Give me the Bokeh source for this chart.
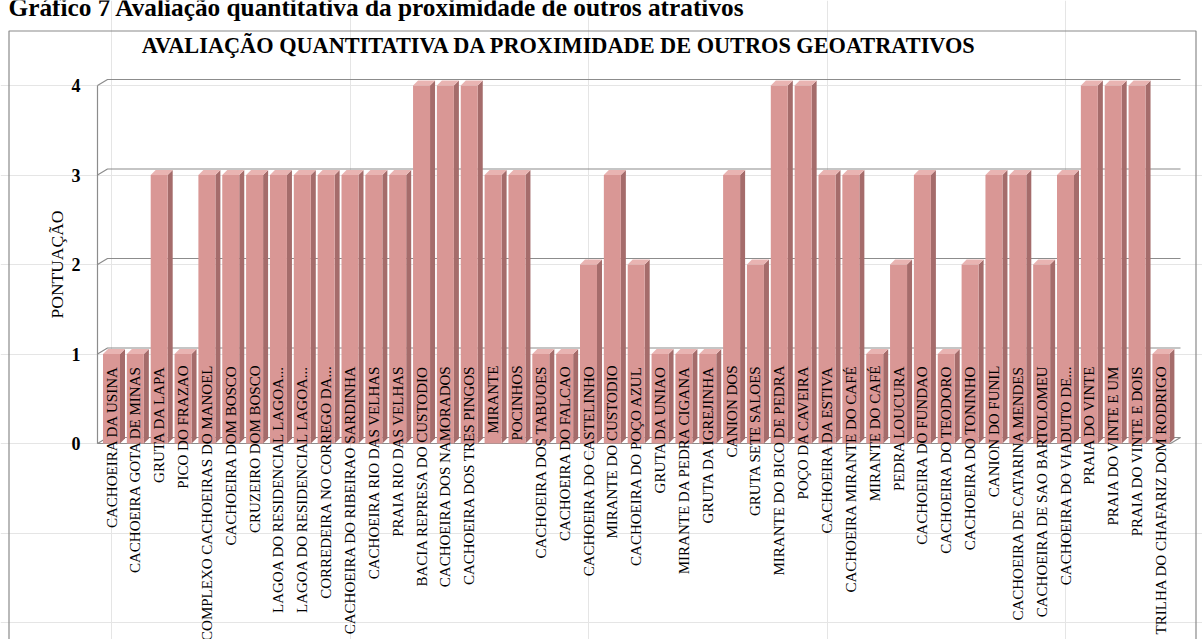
import numpy as np
from bokeh.plotting import figure
from bokeh.models import ColumnDataSource, Range1d
from bokeh.core.properties import value
from bokeh.embed import file_html
from bokeh.resources import INLINE

# ---------------- data ----------------
categories = [
    "CACHOEIRA DA USINA",
    "CACHOEIRA GOTA DE MINAS",
    "GRUTA DA LAPA",
    "PICO DO FRAZAO",
    "COMPLEXO CACHOEIRAS DO MANOEL",
    "CACHOEIRA DOM BOSCO",
    "CRUZEIRO DOM BOSCO",
    "LAGOA DO RESIDENCIAL LAGOA...",
    "LAGOA DO RESIDENCIAL LAGOA...",
    "CORREDEIRA NO CORREGO DA...",
    "CACHOEIRA DO RIBEIRAO SARDINHA",
    "CACHOEIRA RIO DAS VELHAS",
    "PRAIA RIO DAS VELHAS",
    "BACIA REPRESA DO CUSTODIO",
    "CACHOEIRA DOS NAMORADOS",
    "CACHOEIRA DOS TRES PINGOS",
    "MIRANTE",
    "POCINHOS",
    "CACHOEIRA DOS TABUOES",
    "CACHOEIRA DO FALCAO",
    "CACHOEIRA DO CASTELINHO",
    "MIRANTE DO CUSTODIO",
    "CACHOEIRA DO POÇO AZUL",
    "GRUTA DA UNIAO",
    "MIRANTE DA PEDRA CIGANA",
    "GRUTA DA IGREJINHA",
    "CANION DOS",
    "GRUTA SETE SALOES",
    "MIRANTE DO BICO DE PEDRA",
    "POÇO DA CAVEIRA",
    "CACHOEIRA DA ESTIVA",
    "CACHOEIRA MIRANTE DO CAFÉ",
    "MIRANTE DO CAFÉ",
    "PEDRA LOUCURA",
    "CACHOEIRA DO FUNDAO",
    "CACHOEIRA DO TEODORO",
    "CACHOEIRA DO TONINHO",
    "CANION DO FUNIL",
    "CACHOEIRA DE CATARINA MENDES",
    "CACHOEIRA DE SAO BARTOLOMEU",
    "CACHOEIRA DO VIADUTO DE...",
    "PRAIA DO VINTE",
    "PRAIA DO VINTE E UM",
    "PRAIA DO VINTE E DOIS",
    "TRILHA DO CHAFARIZ DOM RODRIGO",
]
scores = [1, 1, 3, 1, 3, 3, 3, 3, 3, 3, 3, 3, 3, 4, 4, 4, 3, 3, 1, 1,
          2, 3, 2, 1, 1, 1, 3, 2, 4, 4, 3, 3, 1, 2, 3, 1, 2, 3, 3, 2,
          3, 4, 4, 4, 1]
y_ticks = [0, 1, 2, 3, 4]
y_label = "PONTUAÇÃO"
chart_title = "AVALIAÇÃO QUANTITATIVA DA PROXIMIDADE DE OUTROS GEOATRATIVOS"
page_title = "Gráfico 7 Avaliação quantitativa da proximidade de outros atrativos"

# ---------------- layout ----------------
W, H = 1202, 639
X0, XS = 111.0, 23.85   # px of first category centre, px per category
Y0, YS = 443.0, 89.5    # px of value 0, px per unit


def dx(px):
    return (px - X0) / XS


def dy(py):
    return (Y0 - py) / YS


FONT = value("Liberation Serif")
FRONT = "#D99795"
SIDE = "#A56C6B"
TOP = "#E9B4B2"
GRID = "#8C8C8C"

p = figure(width=W, height=H, output_backend="svg", toolbar_location=None,
           tools="", title=None,
           x_range=Range1d(dx(0), dx(W)), y_range=Range1d(dy(H), dy(0)),
           x_axis_location=None, y_axis_location=None, min_border=0)
p.outline_line_color = None
p.background_fill_color = "white"
p.border_fill_color = "white"

# chart border
p.quad(left=[dx(8.5)], right=[dx(1195.5)], top=[dy(30.5)], bottom=[dy(H + 10)],
       fill_color=None, line_color="#8A8A8A", line_width=1.2)

# 3D walls
n = len(categories)
xs_idx = np.arange(n)
wx_front = dx(97)
wdx, wdy = 10 / XS, 6 / YS
wx_right = dx(1180)
top_val = max(y_ticks)
wall_xs, wall_ys = [], []
wall_xs.append([wx_front, wx_front]); wall_ys.append([0, top_val])
for t in y_ticks:
    wall_xs.append([wx_front, wx_front + wdx, wx_right])
    wall_ys.append([t, t + wdy, t + wdy])
wall_xs.append([wx_front, wx_right - wdx, wx_right])
wall_ys.append([0, 0, wdy])
p.multi_line(wall_xs, wall_ys, line_color=GRID, line_width=1.2)

# bars (side, top, front)
hw = 8.5 / XS
bdx, bdy = 5 / XS, 5 / YS
src = ColumnDataSource(dict(x=xs_idx, v=scores, cat=categories))
side_xs = [[x + hw, x + hw + bdx, x + hw + bdx, x + hw] for x in xs_idx]
side_ys = [[0, bdy, v + bdy, v] for v in scores]
top_xs = [[x - hw, x - hw + bdx, x + hw + bdx, x + hw] for x in xs_idx]
top_ys = [[v, v + bdy, v + bdy, v] for v in scores]
p.patches(side_xs, side_ys, fill_color=SIDE, line_color=None)
p.patches(top_xs, top_ys, fill_color=TOP, line_color=None)
p.vbar(x="x", width=2 * hw, bottom=0, top="v", source=src,
       fill_color=FRONT, line_color=None)

# category labels (rotated, top-aligned like the original)
lab_y = dy(365)
p.text(x="x", y=lab_y, text="cat", source=src, angle=np.pi / 2,
       text_align="right", text_baseline="middle", text_font=FONT,
       text_font_size="15px", text_color="black")

# y tick labels
p.text(x=[dx(80)] * len(y_ticks), y=y_ticks, text=[str(t) for t in y_ticks],
       text_align="right", text_baseline="middle", text_font=FONT,
       text_font_style="bold", text_font_size="18px", text_color="black")

# y axis title
p.text(x=[dx(56)], y=[(y_ticks[0] + y_ticks[-1]) / 2], text=[y_label],
       angle=np.pi / 2, text_align="center", text_baseline="middle",
       text_font=FONT, text_font_size="17.5px", text_color="black")

# chart title
p.text(x=[dx(559)], y=[dy(45)], text=[chart_title],
       text_align="center", text_baseline="middle", text_font=FONT,
       text_font_style="bold", text_font_size="22.3px", text_color="black")

# page caption (cut by the page top, as in the original)
p.text(x=[dx(8)], y=[dy(6)], text=[page_title],
       text_align="left", text_baseline="middle", text_font=FONT,
       text_font_style="bold", text_font_size="25.3px", text_color="black")

open("out.html", "w").write(file_html(p, INLINE))
